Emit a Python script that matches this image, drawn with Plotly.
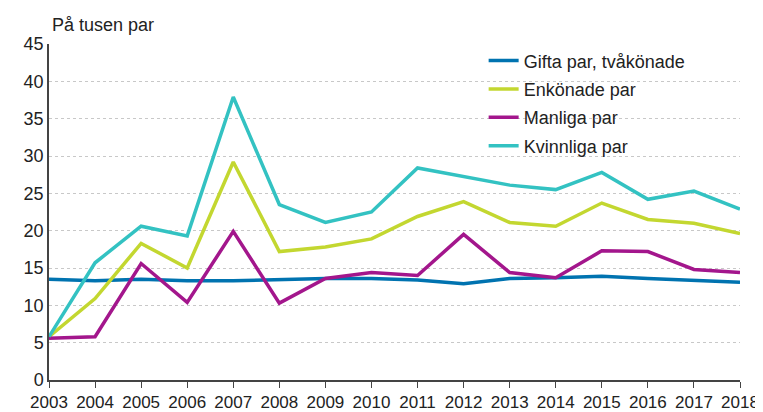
import plotly.graph_objects as go

years = list(range(2003, 2019))

gifta = [13.5, 13.3, 13.5, 13.3, 13.3, 13.5, 13.6, 13.6, 13.4, 12.9, 13.6, 13.7, 13.9, 13.6, 13.4, 13.1]
enkonade = [5.8, 10.9, 18.3, 15.0, 29.2, 17.2, 17.8, 18.9, 21.9, 23.9, 21.1, 20.6, 23.7, 21.5, 21.0, 19.6]
manliga = [5.6, 5.8, 15.6, 10.4, 19.9, 10.3, 13.6, 14.4, 14.0, 19.5, 14.4, 13.7, 17.3, 17.2, 14.8, 14.4]
kvinnliga = [5.8, 15.7, 20.6, 19.3, 37.9, 23.5, 21.1, 22.5, 28.4, 27.3, 26.1, 25.5, 27.8, 24.2, 25.3, 22.9]

series = [
    ("Gifta par, tvåkönade", gifta, "#0073B0"),
    ("Enkönade par", enkonade, "#C3D730"),
    ("Manliga par", manliga, "#A3168C"),
    ("Kvinnliga par", kvinnliga, "#33C2C2"),
]

fig = go.Figure()
for name, vals, color in series:
    fig.add_trace(go.Scatter(
        x=years, y=vals, name=name, mode="lines",
        line=dict(color=color, width=3.5),
        legendgroup=name,
    ))

# page body has an 8px margin, so the figure is a bit smaller than the window
fig.update_layout(
    width=755, height=404,
    margin=dict(l=41, r=23, t=36, b=32),
    paper_bgcolor="white", plot_bgcolor="white",
    font=dict(family="Liberation Sans, Arial, sans-serif", size=18, color="#222"),
    showlegend=True,
    legend=dict(x=0.629, y=1.005, xanchor="left", yanchor="top",
                font=dict(size=18), tracegroupgap=2,
                bgcolor="rgba(0,0,0,0)"),
    annotations=[dict(text="På tusen par", xref="paper", yref="paper",
                      x=0.002, y=1.0, yshift=7, xanchor="left", yanchor="bottom",
                      showarrow=False, font=dict(size=18))],
)
fig.update_xaxes(
    range=[2003, 2018], tickmode="array", tickvals=years,
    showline=True, linecolor="#444", linewidth=1.5,
    ticks="outside", ticklen=6, tickcolor="#444", tickfont=dict(size=17),
    ticklabeloverflow="allow",
    showgrid=False, zeroline=False, automargin=False,
)
fig.update_yaxes(
    range=[0, 45], dtick=5,
    showline=True, linecolor="#444", linewidth=1.5,
    ticks="", showgrid=True, gridcolor="#c8c8c8", griddash="dot",
    zeroline=False, automargin=False,
)

fig.write_html("out.html")
